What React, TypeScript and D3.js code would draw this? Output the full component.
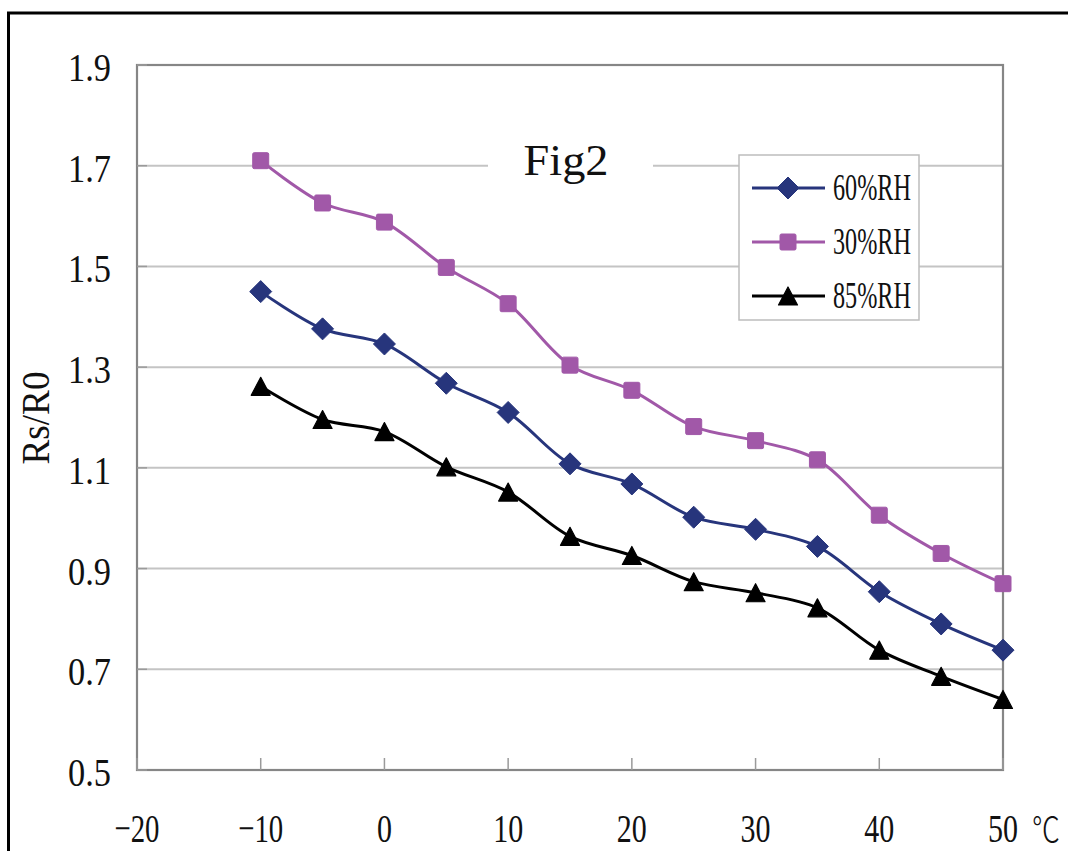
import React from "react";
import * as d3 from "d3";

const temps = [-10, -5, 0, 5, 10, 15, 20, 25, 30, 35, 40, 45, 50];
const rh60 = [1.45, 1.376, 1.346, 1.268, 1.21, 1.108, 1.068, 1.002, 0.978, 0.944, 0.854, 0.79, 0.738];
const rh30 = [1.71, 1.626, 1.588, 1.498, 1.426, 1.304, 1.254, 1.182, 1.154, 1.116, 1.006, 0.93, 0.87];
const rh85 = [1.262, 1.196, 1.172, 1.102, 1.052, 0.964, 0.926, 0.874, 0.852, 0.822, 0.738, 0.686, 0.64];
const xTicks = [-20, -10, 0, 10, 20, 30, 40, 50];
const yTicks = [0.5, 0.7, 0.9, 1.1, 1.3, 1.5, 1.7, 1.9];
const seriesNames = ["60%RH", "30%RH", "85%RH"];
const title = "Fig2";
const yTitle = "Rs/R0";
const unit = "℃";

const W = 1068;
const H = 851;
const FONT = "'Liberation Serif', 'DejaVu Serif', serif";

const x = d3.scaleLinear().domain([-20, 50]).range([137, 1003]);
const y = d3.scaleLinear().domain([0.5, 1.9]).range([770, 65]);

const NAVY = "#27357c";
const PURPLE = "#a158a8";
const BLACK = "#000000";

type Shape = "diamond" | "square" | "triangle";

function Marker({ cx, cy, shape, color }: { cx: number; cy: number; shape: Shape; color: string }) {
  if (shape === "diamond") {
    const r = 11;
    return <path d={`M${cx},${cy - r}L${cx + r},${cy}L${cx},${cy + r}L${cx - r},${cy}Z`} fill={color} stroke={color} strokeWidth={1} strokeLinejoin="round" />;
  }
  if (shape === "square") {
    const s = 16;
    return <rect x={cx - s / 2} y={cy - s / 2} width={s} height={s} rx={1.5} fill={color} stroke={color} strokeWidth={1} />;
  }
  const w = 19, h = 18;
  return <path d={`M${cx},${cy - h / 2}L${cx + w / 2},${cy + h / 2}L${cx - w / 2},${cy + h / 2}Z`} fill={color} stroke={color} strokeWidth={1.2} strokeLinejoin="round" />;
}

export default function App() {
  const series = [
    { name: seriesNames[0], values: rh60, color: NAVY, shape: "diamond" as Shape },
    { name: seriesNames[1], values: rh30, color: PURPLE, shape: "square" as Shape },
    { name: seriesNames[2], values: rh85, color: BLACK, shape: "triangle" as Shape },
  ];
  const line = d3
    .line<[number, number]>()
    .x((d) => x(d[0]))
    .y((d) => y(d[1]))
    .curve(d3.curveCatmullRom.alpha(0.5));
  const fmtY = d3.format(".1f");
  const fmtX = d3.format("");
  const [x0, x1] = x.range();
  const [yb, yt] = y.range();

  const legendX = 739, legendY = 155, legendW = 180, legendH = 165;
  const legendRows = [188, 242, 296];

  return (
    <svg width={W} height={H} style={{ position: "absolute", left: 0, top: 0, background: "#fff" }} fontFamily={FONT}>
      <rect x={0} y={0} width={W} height={H} fill="#fff" />
      {/* outer frame */}
      <rect x={8.5} y={13} width={1200} height={1000} fill="none" stroke="#000" strokeWidth={3} />

      {/* gridlines */}
      {yTicks.slice(1, -1).map((t) => (
        <line key={t} x1={x0} x2={x1} y1={y(t)} y2={y(t)} stroke="#c4c4c4" strokeWidth={2} />
      ))}

      {/* title background + title */}
      <rect x={488} y={148} width={165} height={36} fill="#fff" />
      <text x={566} y={175} fontSize={44} textAnchor="middle" textLength={85} lengthAdjust="spacingAndGlyphs" fill="#111">
        {title}
      </text>

      {/* plot frame */}
      <rect x={x0} y={yt} width={x1 - x0} height={yb - yt} fill="none" stroke="#868686" strokeWidth={2.2} />

      {/* ticks */}
      {xTicks.map((t) => (
        <line key={"xt" + t} x1={x(t)} x2={x(t)} y1={yb} y2={yb - 12} stroke="#9a9a9a" strokeWidth={1.5} />
      ))}
      {yTicks.map((t) => (
        <line key={"yt" + t} x1={x0} x2={x0 + 10} y1={y(t)} y2={y(t)} stroke="#9a9a9a" strokeWidth={1.5} />
      ))}

      {/* y tick labels */}
      {yTicks.map((t) => (
        <text key={"yl" + t} x={111} y={y(t) + 16} fontSize={41} textAnchor="end" textLength={43} lengthAdjust="spacingAndGlyphs" fill="#111">
          {fmtY(t)}
        </text>
      ))}

      {/* x tick labels */}
      {xTicks.map((t) => {
        const s = fmtX(t);
        return (
          <text key={"xl" + t} x={x(t)} y={842} fontSize={41} textAnchor="middle" textLength={15 * s.length} lengthAdjust="spacingAndGlyphs" fill="#111">
            {s}
          </text>
        );
      })}
      <text x={1032} y={842} fontSize={34} textLength={28} lengthAdjust="spacingAndGlyphs" fill="#111" fontFamily="'Noto Sans CJK SC', 'DejaVu Sans', sans-serif" fontWeight={300}>
        {unit}
      </text>

      {/* y axis title */}
      <text transform={`translate(49,418) rotate(-90)`} fontSize={41} textAnchor="middle" textLength={93} lengthAdjust="spacingAndGlyphs" fill="#111">
        {yTitle}
      </text>

      {/* series */}
      {series.map((s) => {
        const pts: [number, number][] = temps.map((t, i) => [t, s.values[i]]);
        return (
          <g key={s.name}>
            <path d={line(pts) || ""} fill="none" stroke={s.color} strokeWidth={3} strokeLinejoin="round" />
            {pts.map((p, i) => (
              <Marker key={i} cx={x(p[0])} cy={y(p[1])} shape={s.shape} color={s.color} />
            ))}
          </g>
        );
      })}

      {/* legend */}
      <rect x={legendX} y={legendY} width={legendW} height={legendH} fill="#fff" stroke="#bdbdbd" strokeWidth={1.5} />
      {series.map((s, i) => (
        <g key={"lg" + s.name}>
          <line x1={752} x2={825} y1={legendRows[i]} y2={legendRows[i]} stroke={s.color} strokeWidth={3} />
          <Marker cx={788} cy={legendRows[i]} shape={s.shape} color={s.color} />
          <text x={833} y={legendRows[i] + 12} fontSize={37} textLength={78} lengthAdjust="spacingAndGlyphs" fill="#111">
            {s.name}
          </text>
        </g>
      ))}
    </svg>
  );
}
